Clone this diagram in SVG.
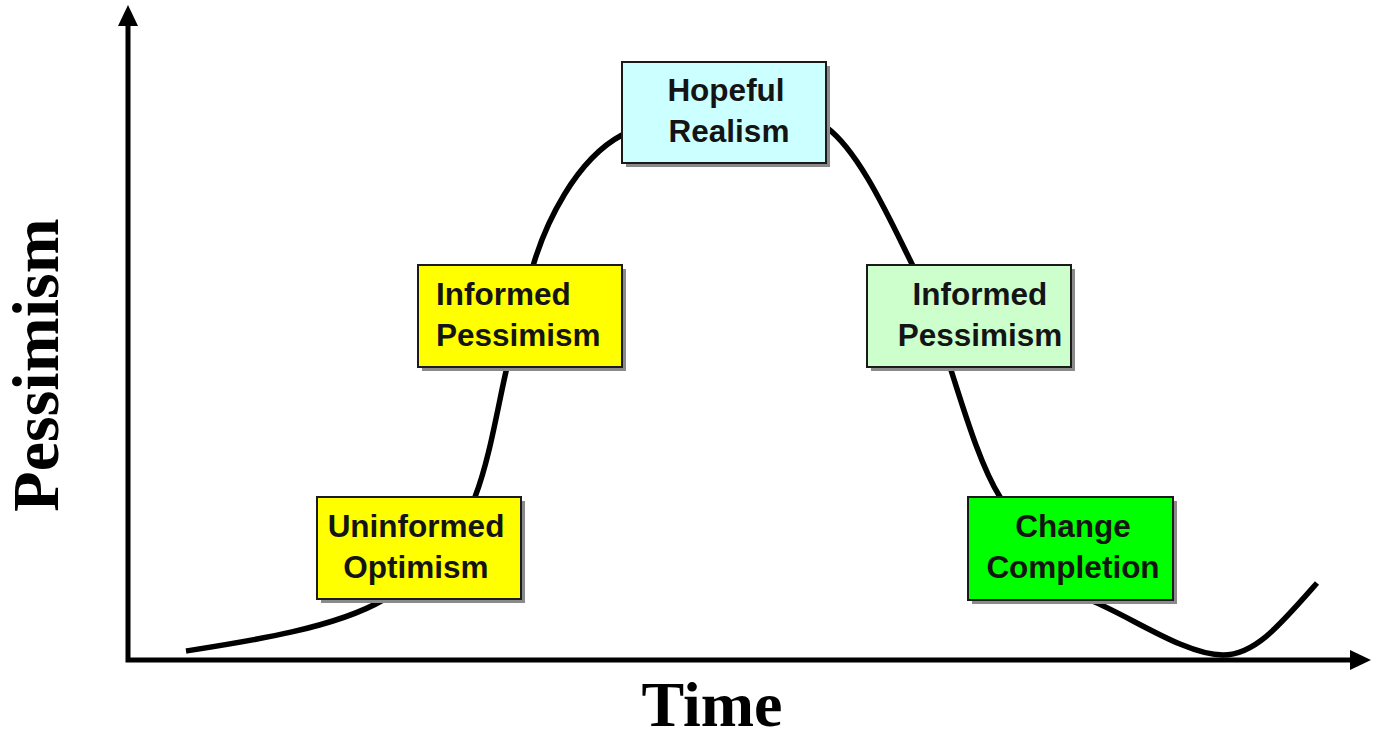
<svg xmlns="http://www.w3.org/2000/svg" width="1374" height="735" viewBox="0 0 1374 735">
<style>
.box{stroke:#1a1a1a;stroke-width:2}
.shadow{fill:#8a8a8a}
.lbl{font-family:"Liberation Sans",Arial,sans-serif;font-weight:bold;font-size:31.5px;fill:#141414}
.axis{font-family:"Liberation Serif","Times New Roman",serif;font-weight:bold;fill:#000}
.ax{stroke:#000;stroke-width:5;fill:none}
.curve{stroke:#000;stroke-width:5.5;fill:none;stroke-linecap:butt}
</style>
<rect width="1374" height="735" fill="#fff"/>
<g id="connectors">
<path class="ax" d="M128,22 L128,660 L1354,660"/>
<polygon points="128,5 118,26 138,26" fill="#000"/>
<polygon points="1371,660 1350,650 1350,670" fill="#000"/>
<path class="curve" d="M186,651 C250,641 335,628 383,600 C431,572 460,536 475,497 C490,458 498,405 507,367 C516,328 520,300 533,266 C545,225 575,160 622,135 C660,112 690,100 724,100 C765,100 800,108 826,127 C860,152 890,220 913,266 C933,306 938,328 950,367 C964,410 980,465 1000,497 C1030,545 1060,585 1090,600 C1130,616 1185,655 1223,655 C1255,655 1280,625 1317,583"/>
</g>
<g id="axis-labels">
<text class="axis" font-size="64" x="712" y="726" text-anchor="middle">Time</text>
<text class="axis" font-size="66" text-anchor="middle" transform="translate(58,365) rotate(-90)">Pessimism</text>
</g>
<g id="uninformed-optimism">
<rect class="shadow" x="321" y="501" width="204" height="102"/>
<rect class="box" x="317" y="497" width="204" height="102" fill="#ffff00"/>
<text class="lbl" x="416" y="537" text-anchor="middle">Uninformed</text>
<text class="lbl" x="416" y="578" text-anchor="middle">Optimism</text>
</g>
<g id="informed-pessimism-left">
<rect class="shadow" x="422" y="269" width="204" height="102"/>
<rect class="box" x="418" y="265" width="204" height="102" fill="#ffff00"/>
<text class="lbl" x="436" y="305">Informed</text>
<text class="lbl" x="436" y="346">Pessimism</text>
</g>
<g id="hopeful-realism">
<rect class="shadow" x="626" y="66" width="204" height="101"/>
<rect class="box" x="622" y="62" width="204" height="101" fill="#ccffff"/>
<text class="lbl" x="726" y="101" text-anchor="middle">Hopeful</text>
<text class="lbl" x="729" y="142" text-anchor="middle">Realism</text>
</g>
<g id="informed-pessimism-right">
<rect class="shadow" x="871" y="269" width="204" height="102"/>
<rect class="box" x="867" y="265" width="204" height="102" fill="#ccffcc"/>
<text class="lbl" x="980" y="305" text-anchor="middle">Informed</text>
<text class="lbl" x="980" y="346" text-anchor="middle">Pessimism</text>
</g>
<g id="change-completion">
<rect class="shadow" x="972" y="501" width="205" height="103"/>
<rect class="box" x="968" y="497" width="205" height="103" fill="#00ff00"/>
<text class="lbl" x="1073" y="537" text-anchor="middle">Change</text>
<text class="lbl" x="1073" y="578" text-anchor="middle">Completion</text>
</g>
</svg>
